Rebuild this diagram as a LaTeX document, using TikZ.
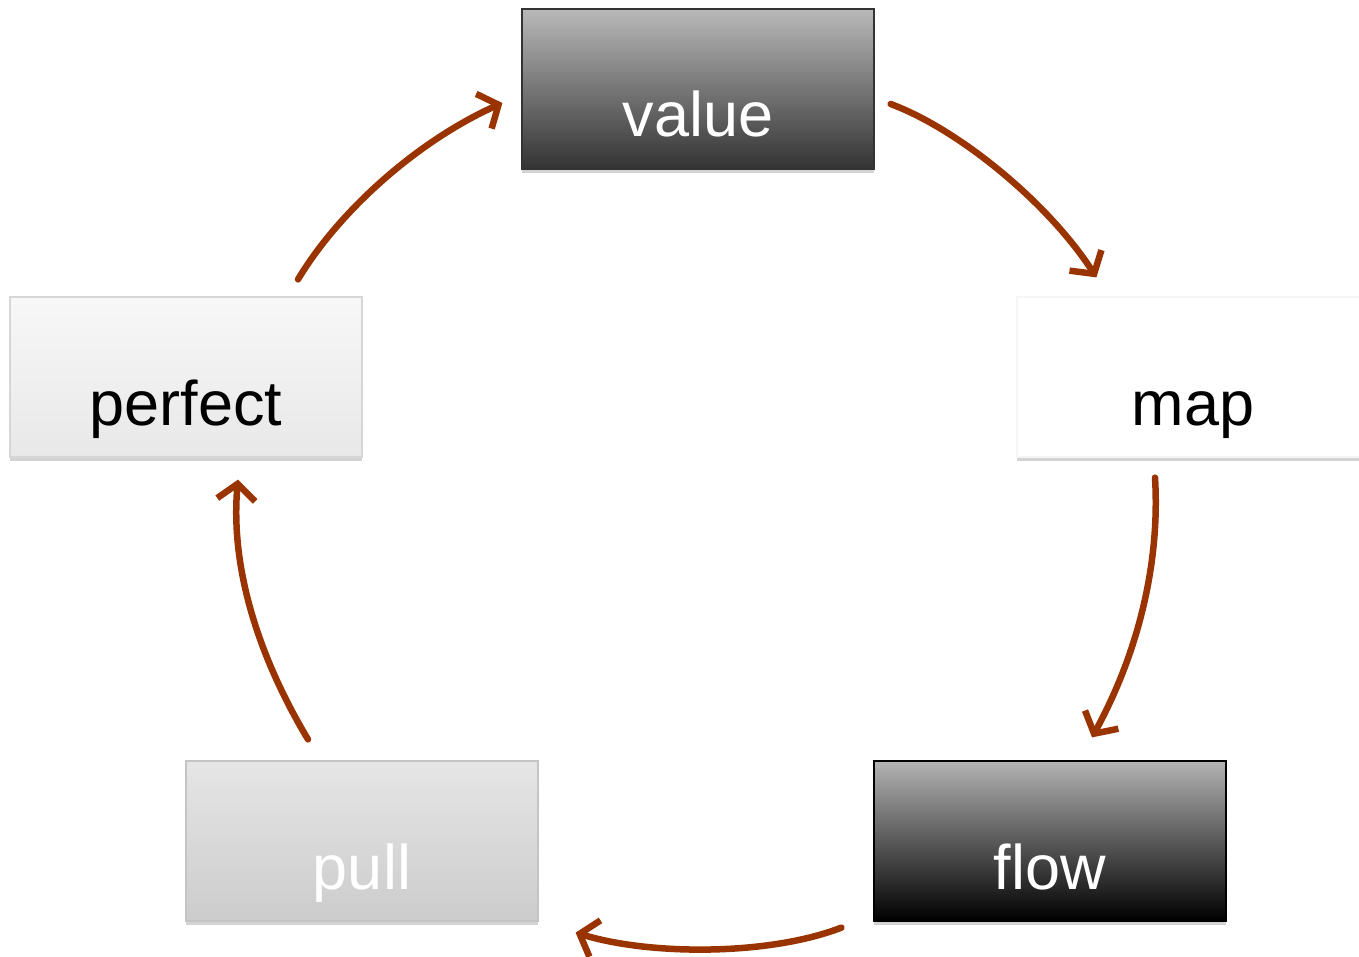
\documentclass[tikz,border=0pt]{standalone}
\usepackage{fontspec}
\setmainfont{Liberation Sans}
\usepackage{xcolor}
\usetikzlibrary{arrows.meta,shadows}
\definecolor{rust}{HTML}{993300}
\definecolor{ink}{HTML}{333333}
\definecolor{ash}{HTML}{C4C4C4}
\tikzset{
  box/.style={rectangle, line width=1.2pt, minimum width=352pt, inner sep=0pt,
              text height=128pt, text depth=32pt, font=\fontsize{63}{70}\selectfont,
              drop shadow={shadow xshift=0pt, shadow yshift=-4pt, opacity=0.35}},
  darkbox/.style={box, draw=ink, top color=gray!55, bottom color=ink, text=white},
  blackbox/.style={box, draw=black, top color=gray!60, bottom color=black, text=white},
  palebox/.style={box, draw=ash, top color=black!10, bottom color=black!20, text=white},
  lightbox/.style={box, draw=ash!70, top color=black!3, bottom color=black!9, text=black},
  plainbox/.style={box, draw=black!4, fill=white, text=black},
  cyc/.style={-{Straight Barb[length=16pt, width=38pt, line width=6.5pt]}, draw=rust,
              line width=6.5pt, line cap=round},
}
\begin{document}
\begin{tikzpicture}[x=1pt, y=-1pt]
\useasboundingbox (0,0) rectangle (1359,957);
\node[darkbox]  (value)   at (698,89)   {value};
\node[plainbox] (map)     at (1193,377) {map};
\node[blackbox] (flow)    at (1050,841) {flow};
\node[palebox]  (pull)    at (362,841)  {pull};
\node[lightbox] (perfect) at (186,377)  {perfect};
\draw[cyc] ([shift={(16,15)}]value.east) .. controls +(70,26) and +(-47,-73) .. ([shift={(80,-19)}]map.north west);
\draw[cyc] ([shift={(-38,20)}]map.south) .. controls +(5,82) and +(48,-88) .. ([shift={(42,-23)}]flow.north);
\draw[cyc] ([shift={(-32,6)}]flow.south west) .. controls +(-72,28) and +(75,23) .. ([shift={(37,11)}]pull.south east);
\draw[cyc] ([shift={(-54,-21)}]pull.north) .. controls +(-48,-80) and +(-8,90) .. ([shift={(52,22)}]perfect.south);
\draw[cyc] ([shift={(112,-17)}]perfect.north) .. controls +(42,-70) and +(-83,37) .. ([shift={(-19,14)}]value.west);
\end{tikzpicture}
\end{document}
